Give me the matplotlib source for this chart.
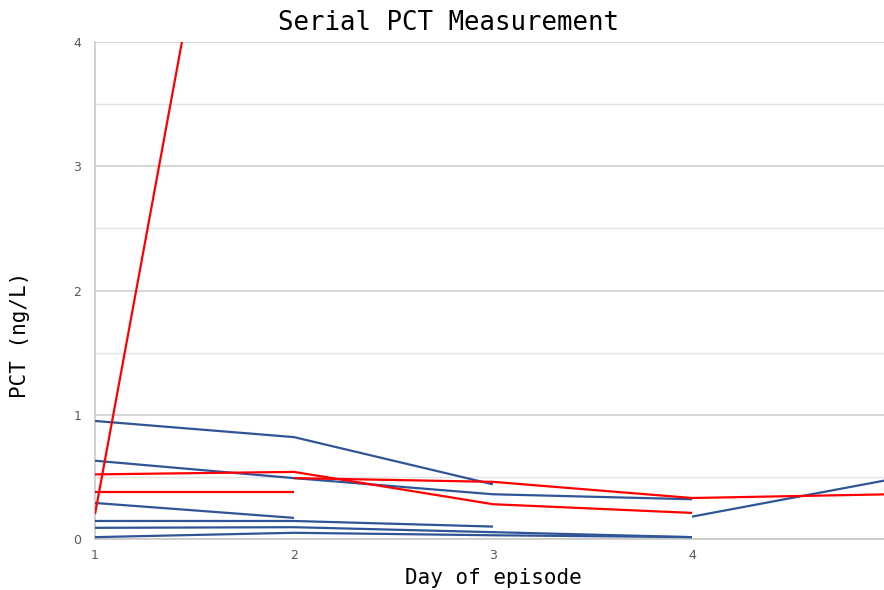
import matplotlib
matplotlib.use("Agg")
import matplotlib.pyplot as plt
import numpy as np

days = [1, 2, 3, 4, 5]
x_ticks = [1, 2, 3, 4]
y_ticks = [0, 1, 2, 3, 4]

# Blue series (None = no measurement)
blue_series = [
    [0.95, 0.82, 0.44, None, None],
    [0.63, 0.49, 0.36, 0.32, None],
    [0.29, 0.17, None, None, None],
    [0.145, 0.145, 0.10, None, None],
    [0.09, 0.095, 0.055, 0.015, None],
    [0.015, 0.05, 0.03, 0.015, None],
    [None, None, None, 0.18, 0.48],
]
# Red series
red_series = [
    [0.20, 8.9, None, None, None],
    [0.52, 0.54, 0.28, 0.21, None],
    [0.38, 0.38, None, None, None],
    [None, 0.49, 0.46, 0.33, 0.36],
]

BLUE = "#2F5597"
RED = "#FF0000"

fig = plt.figure(figsize=(8.84, 5.90), dpi=100)
ax = fig.add_axes([95/884, 1-539/590, 1-95/884, (539-42)/590])

def plot_series(vals, color):
    xs = [d for d, v in zip(days, vals) if v is not None]
    ys = [v for v in vals if v is not None]
    ax.plot(xs, ys, color=color, lw=1.6, solid_capstyle="butt", zorder=3, clip_on=True)

for s in blue_series:
    plot_series(s, BLUE)
for s in red_series:
    plot_series(s, RED)

ax.set_xlim(1, 4.965)
ax.set_ylim(0, 4)
ax.set_xticks(x_ticks)
ax.set_yticks(y_ticks)
ax.set_yticks(np.arange(0, 4.01, 0.5), minor=True)
ax.grid(True, which="major", axis="y", color="#D0D0D0", lw=1.2, zorder=0)
ax.grid(True, which="minor", axis="y", color="#E4E4E4", lw=1.0, zorder=0)
ax.tick_params(axis="both", which="both", length=0, labelsize=9, colors="#595959")
ax.tick_params(axis="x", pad=7)
ax.tick_params(axis="y", pad=10)
for side in ["top", "right"]:
    ax.spines[side].set_visible(False)
ax.spines["left"].set_color("#C8C8C8")
ax.spines["bottom"].set_color("#C8C8C8")
ax.spines["left"].set_linewidth(1.2)
ax.spines["bottom"].set_linewidth(1.2)

mono = "DejaVu Sans Mono"
fig.text(448/884, 1-23/590, "Serial PCT Measurement", family=mono, fontsize=18.5,
         ha="center", va="center", color="black")
fig.text(493/884, 1-578/590, "Day of episode", family=mono, fontsize=15,
         ha="center", va="center", color="black")
fig.text(20/884, 1-335/590, "PCT (ng/L)", family=mono, fontsize=15,
         ha="center", va="center", rotation=90, color="black")

fig.savefig("out.png", dpi=100)
